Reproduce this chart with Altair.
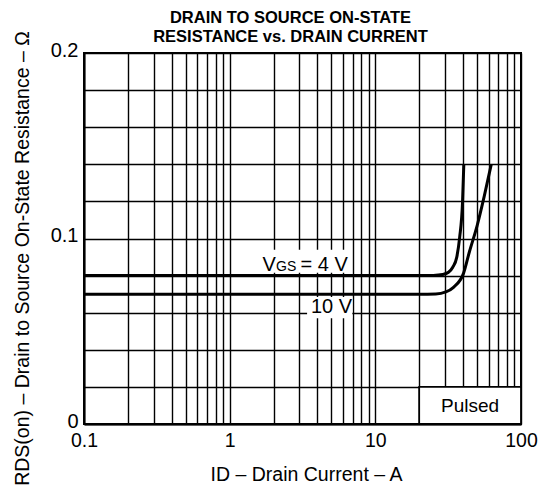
import altair as alt
import pandas as pd

# ---- data ----
x_4v = [0.1, 1, 10, 20, 25, 29, 31.8, 34, 36.2, 37.9, 39.7, 40.5]
y_4v = [0.080, 0.080, 0.080, 0.080, 0.0801, 0.0806, 0.0818, 0.0845, 0.0898, 0.1005, 0.1200, 0.1400]
x_10v = [0.1, 1, 10, 20, 26, 30.5, 34.4, 40.3, 44.3, 50, 56, 62.5]
y_10v = [0.070, 0.070, 0.070, 0.070, 0.0701, 0.0712, 0.0737, 0.0812, 0.0930, 0.1070, 0.1230, 0.1400]

x_grid = [0.1, 0.2, 0.3, 0.4, 0.5, 0.6, 0.7, 0.8, 0.9,
          1, 2, 3, 4, 5, 6, 7, 8, 9,
          10, 20, 30, 40, 50, 60, 70, 80, 90, 100]
y_grid = [0, 0.02, 0.04, 0.06, 0.08, 0.1, 0.12, 0.14, 0.16, 0.18, 0.2]

FONT = "Liberation Sans"

curves = pd.DataFrame({
    "x": x_4v + x_10v,
    "y": y_4v + y_10v,
    "VGS": ["4 V"] * len(x_4v) + ["10 V"] * len(x_10v),
})

# annotation boxes (white label backgrounds, Pulsed box)
label_boxes = pd.DataFrame({
    "x": [1.65, 3.4], "x2": [6.9, 6.95],
    "y": [0.0815, 0.0570], "y2": [0.0940, 0.0685],
})
pulsed_box = pd.DataFrame({"x": [20], "x2": [100], "y": [0], "y2": [0.02]})

xs = alt.Scale(type="log", domain=[0.1, 100], nice=False)
ys = alt.Scale(domain=[0, 0.2], nice=False)

x_axis = alt.Axis(
    values=x_grid, grid=True, gridColor="black", gridWidth=1.4, gridOpacity=1,
    domain=True, domainColor="black", domainWidth=2, ticks=False,
    labelExpr="(datum.value == 0.1 || datum.value == 1 || datum.value == 10 || datum.value == 100) ? format(datum.value, '~g') : ''",
    labelFont=FONT, labelFontSize=19.5, labelColor="black", labelPadding=7, labelFlush=False,
    labelOverlap=False,
    title="ID – Drain Current – A", titleFont=FONT, titleFontSize=19.5, titleFontWeight="normal",
    titleColor="black", titleX=222, titleY=50, titleBaseline="middle", titleAlign="center",
)
y_axis = alt.Axis(
    values=y_grid, grid=True, gridColor="black", gridWidth=1.4, gridOpacity=1,
    domain=True, domainColor="black", domainWidth=2, ticks=False,
    labelExpr="(datum.value == 0 || datum.value == 0.1 || datum.value == 0.2) ? format(datum.value, '~g') : ''",
    labelFont=FONT, labelFontSize=20, labelColor="black", labelPadding=6, labelFlush=False,
    labelOverlap=False, labelOffset=-3,
    title="RDS(on) – Drain to Source On-State Resistance – Ω", titleFont=FONT, titleFontSize=19.5,
    titleFontWeight="normal", titleColor="black", titleX=-62, titleY=205, titleAngle=270,
    titleAlign="center", titleBaseline="middle",
)

X = alt.X("x:Q", scale=xs, axis=x_axis)
Y = alt.Y("y:Q", scale=ys, axis=y_axis)

bg = alt.Chart(label_boxes).mark_rect(fill="white", strokeWidth=0).encode(
    x=X, x2="x2:Q", y=Y, y2="y2:Q",
)
pbox = alt.Chart(pulsed_box).mark_rect(fill="white", stroke="black", strokeWidth=1.8).encode(
    x=X, x2="x2:Q", y=Y, y2="y2:Q",
)
lines = alt.Chart(curves).mark_line(color="black", strokeWidth=3, interpolate="monotone").encode(
    x=X, y=Y, detail="VGS:N",
)


def txt(t, x, y, size, dx=0, align="left", baseline="alphabetic"):
    d = pd.DataFrame({"t": [t], "x": [x], "y": [y]})
    return alt.Chart(d).mark_text(font=FONT, fontSize=size, color="black", align=align,
                                  baseline=baseline, dx=dx).encode(
        x=X, y=Y, text="t:N",
    )

t1 = txt("V", 1.68, 0.0825, 20, dx=0)
t2 = txt("GS", 1.68, 0.0825, 14, dx=13.5)
t3 = txt("= 4 V", 1.68, 0.0825, 20, dx=38)
t4 = txt("10 V", 5.0, 0.0632, 20, align="center", baseline="middle")
t5 = txt("Pulsed", 44.7, 0.0098, 19, align="center", baseline="middle")

chart = alt.layer(bg, pbox, lines, t1, t2, t3, t4, t5).properties(
    width=437, height=371,
    padding={"left": 76, "top": 45, "right": 17, "bottom": 61},
    autosize=alt.AutoSizeParams(type="none"),
    title=alt.TitleParams(
        text=["DRAIN TO SOURCE ON-STATE", "RESISTANCE vs. DRAIN CURRENT"],
        font=FONT, fontSize=16.5, fontWeight="bold", color="black",
        anchor="middle", dx=-12, offset=-15, lineHeight=19,
    ),
).configure_view(stroke="black", strokeWidth=2)

chart.save("out.html", embed_options={"renderer": "svg", "actions": False})
